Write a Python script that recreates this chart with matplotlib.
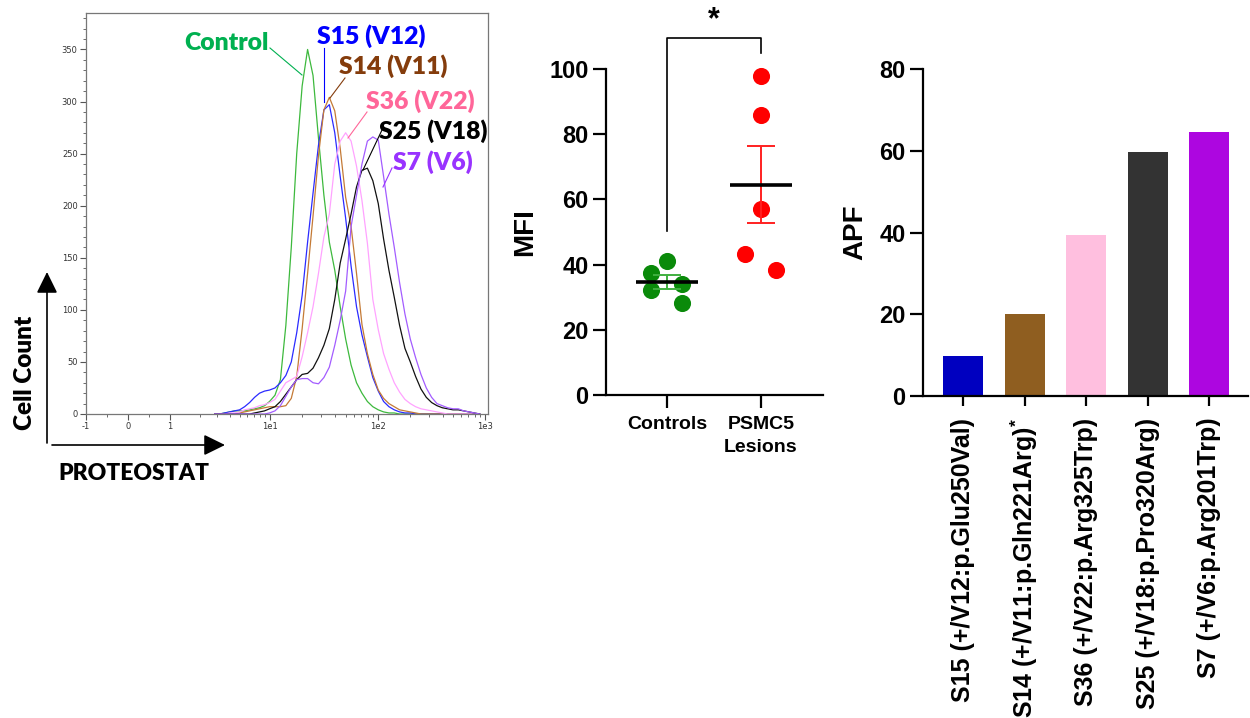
import numpy as np
import matplotlib
matplotlib.use("Agg")
import matplotlib.pyplot as plt
from matplotlib.lines import Line2D
from matplotlib.patches import FancyArrowPatch
from matplotlib.ticker import FixedLocator, NullFormatter

plt.rcParams["mathtext.fontset"] = "custom"
plt.rcParams["mathtext.rm"] = "Liberation Sans:bold"
plt.rcParams["mathtext.bf"] = "Liberation Sans:bold"
plt.rcParams["mathtext.default"] = "rm"

# ---------------- data ----------------
# Histogram: bin centres (log10 PROTEOSTAT intensity) and cell counts
LOG10_BINS = [0.45, 0.50, 0.55, 0.60, 0.65, 0.70, 0.75, 0.80, 0.85, 0.90,
              0.95, 1.00, 1.05, 1.10, 1.15, 1.20, 1.25, 1.30, 1.35, 1.40,
              1.45, 1.50, 1.55, 1.60, 1.65, 1.70, 1.75, 1.80, 1.85, 1.90,
              1.95, 2.00, 2.05, 2.10, 2.15, 2.20, 2.25, 2.30, 2.35, 2.40,
              2.45, 2.50, 2.55, 2.60, 2.65, 2.70, 2.75, 2.80, 2.85, 2.90, 2.95]
CONTROL = [0, 0, 1, 2, 3, 3, 3, 4, 5, 6, 8, 12, 18, 33, 85, 160, 250, 315, 350, 325,
           265, 210, 165, 138, 103, 72, 47, 30, 20, 12, 7, 4, 2, 1, 1, 0, 0, 0, 0, 0,
           0, 0, 0, 0, 0, 0, 0, 0, 0, 0, 0]
S15 = [0, 0, 1, 2, 3, 4, 7, 11, 16, 20, 22, 23, 25, 30, 37, 50, 78, 114, 165, 212,
       258, 292, 297, 270, 228, 188, 142, 103, 76, 55, 35, 22, 12, 7, 4, 2, 1, 1, 0, 0,
       0, 0, 0, 0, 0, 0, 0, 0, 0, 0, 0]
S14 = [0, 0, 0, 0, 0, 1, 2, 3, 4, 5, 6, 7, 7, 7, 8, 15, 36, 82, 135, 190,
       248, 292, 304, 291, 255, 208, 180, 135, 86, 58, 38, 23, 15, 10, 7, 4, 3, 2, 1, 0,
       0, 0, 0, 0, 0, 0, 0, 0, 0, 0, 0]
S36 = [0, 0, 0, 1, 1, 2, 4, 5, 6, 8, 9, 11, 14, 22, 30, 33, 36, 55, 78, 103,
       135, 170, 192, 240, 262, 270, 262, 238, 205, 164, 110, 81, 58, 43, 30, 21, 14, 10, 7, 5,
       4, 3, 2, 1, 0, 0, 0, 0, 0, 0, 0]
S25 = [0, 0, 0, 0, 0, 0, 0, 0, 1, 2, 3, 5, 7, 12, 19, 26, 33, 38, 39, 44,
       54, 66, 82, 110, 145, 168, 192, 218, 234, 236, 224, 202, 168, 138, 112, 85, 63, 50, 36, 24,
       16, 11, 8, 6, 5, 4, 4, 3, 2, 1, 0]
S7 = [0, 0, 0, 0, 0, 0, 0, 0, 0, 0, 0, 1, 3, 8, 17, 26, 33, 34, 34, 30,
      29, 35, 45, 66, 90, 118, 180, 210, 240, 262, 266, 263, 228, 192, 160, 126, 96, 72, 54, 38,
      25, 16, 10, 8, 6, 5, 5, 3, 2, 1, 0]
HIST_SERIES = [CONTROL, S15, S14, S36, S25, S7]
HIST_LABELS = ["Control", "S15 (V12)", "S14 (V11)", "S36 (V22)", "S25 (V18)", "S7 (V6)"]
HIST_TICKS = [-1, 0, 1, 10, 100, 1000]
HIST_TICKLABELS = ["-1", "0", "1", "1e1", "1e2", "1e3"]

# MFI dot plot
MFI_GROUPS = ["Controls", "PSMC5\nLesions"]
MFI_CONTROLS = [41.0, 37.3, 32.2, 34.2, 28.3]
MFI_LESIONS = [98.0, 86.0, 57.0, 43.2, 38.3]
CTRL_JITTER = [0.0, -0.167, -0.167, 0.163, 0.163]
LES_JITTER = [0.0, 0.0, 0.0, -0.167, 0.163]

# APF bar chart
APF_LABELS = ["S15 (+/V12:p.Glu250Val)", "S14 (+/V11:p.Gln221Arg)$^{*}$",
              "S36 (+/V22:p.Arg325Trp)", "S25 (+/V18:p.Pro320Arg)",
              "S7 (+/V6:p.Arg201Trp)"]
APF_VALUES = [9.8, 20.0, 39.4, 59.8, 64.5]

# ---------------- styles ----------------
CURVE_COLORS = ["#3DB93D", "#2B2BFF", "#C47A36", "#FFA3FF", "#111111", "#A35CFF"]
LABEL_COLORS = ["#00B050", "#0000FF", "#843C0C", "#FF6699", "#000000", "#9933FF"]
BAR_COLORS = ["#0000C0", "#8F5E20", "#FFBFDF", "#333333", "#AD06E0"]

W, H = 1250, 718
fig = plt.figure(figsize=(12.5, 7.18), dpi=100)


def fx(px):
    return px / W


def fy(py):
    return 1 - py / H


# ---------------- histogram ----------------
_LOGS = [0, 1, 2, 3, 4]
_PIX = [0, 100, 209, 316, 423]


def fwd(x):
    x = np.asarray(x, float)
    lg = np.log10(np.clip(x, 1, None))
    return np.where(x <= 1, 42 * x, 42 + np.interp(lg, _LOGS, _PIX))


def inv(u):
    u = np.asarray(u, float)
    return np.where(u <= 42, u / 42, 10 ** np.interp(u - 42, _PIX, _LOGS))


ax1 = fig.add_axes([fx(86), fy(414), (488 - 86) / W, (414 - 13) / H])
ax1.set_xscale("function", functions=(fwd, inv))
xs = 10 ** np.array(LOG10_BINS)
for ser, col in zip(HIST_SERIES, CURVE_COLORS):
    ax1.plot(xs, ser, color=col, lw=0.9)
ax1.set_xlim(-1, 1067)
ax1.set_ylim(0, 385)
ax1.set_xticks(HIST_TICKS)
ax1.set_xticklabels(HIST_TICKLABELS)
minor_x = [-0.5, 0.5] + [m * d for d in (1, 10, 100) for m in range(2, 10)]
ax1.xaxis.set_minor_locator(FixedLocator(minor_x))
ax1.xaxis.set_minor_formatter(NullFormatter())
ax1.set_yticks(range(0, 351, 50))
ax1.yaxis.set_minor_locator(FixedLocator(list(range(0, 381, 10))))
ax1.yaxis.set_minor_formatter(NullFormatter())
ax1.tick_params(which="major", length=4, width=0.8, color="#555555",
                labelsize=6, labelcolor="#333333", pad=2)
ax1.tick_params(which="minor", length=2.2, width=0.6, color="#555555")
for sp in ax1.spines.values():
    sp.set_color("#777777")
    sp.set_linewidth(0.9)

# annotation labels with leader lines
label_pos = [(226, 43), (371, 36), (393, 66), (420, 101), (433, 131), (433, 162)]
leaders = [((270, 48), (302, 75)), ((324, 48), (324, 102)), ((345, 78), (330, 98)),
           ((367, 112), (348, 138)), ((382, 130), (363, 170)), ((392, 168), (383, 187))]
for lab, (tx, ty), ((x0, y0), (x1, y1)), lc in zip(HIST_LABELS, label_pos, leaders, LABEL_COLORS):
    fig.text(fx(tx), fy(ty), lab, ha="center", va="center", fontsize=17.8,
             fontweight="heavy", color=lc, family="Lato")
    fig.add_artist(Line2D([fx(x0), fx(x1)], [fy(y0), fy(y1)], color=lc, lw=0.8))

fig.text(fx(25), fy(373), "Cell Count", rotation=90, ha="center", va="center",
         fontsize=17.5, fontweight="heavy", family="Lato")
fig.text(fx(134), fy(474), "PROTEOSTAT", ha="center", va="center",
         fontsize=16.5, fontweight="heavy", family="Lato")
for (a, b) in [((47, 443), (47, 272)), ((52, 445), (225, 445))]:
    fig.add_artist(FancyArrowPatch((fx(a[0]), fy(a[1])), (fx(b[0]), fy(b[1])),
                                   transform=fig.transFigure,
                                   arrowstyle="-|>,head_length=0.65,head_width=0.32",
                                   mutation_scale=20, lw=1.2, color="black",
                                   shrinkA=0, shrinkB=0))

# ---------------- MFI ----------------
AF = "Liberation Sans"
ax2 = fig.add_axes([fx(606), fy(395), (823 - 606) / W, (395 - 69) / H])
ax2.set_xlim(-0.649, 1.66)
ax2.set_ylim(0, 100)
groups = [(MFI_CONTROLS, CTRL_JITTER, "#0A8A0A", "#40B040"),
          (MFI_LESIONS, LES_JITTER, "#FF0000", "#FF2020")]
for i, (vals, jit, pc, ec) in enumerate(groups):
    v = np.array(vals)
    ax2.plot(i + np.array(jit), v, "o", ms=11.3, color=pc, mec=pc, zorder=3, clip_on=False)
    m = v.mean()
    sem = v.std(ddof=1) / np.sqrt(len(v))
    ax2.errorbar(i, m, yerr=sem, color=ec, lw=1.4, capsize=10.4, capthick=1.4, zorder=4)
    ax2.hlines(m, i - 0.33, i + 0.33, color="black", lw=2.6, zorder=5)
ax2.plot([0, 0, 1, 1], [50.3, 109.6, 109.6, 105], color="black", lw=1.2, clip_on=False)
ax2.text(0.5, 110.5, "*", ha="center", va="bottom", fontsize=22, fontweight="bold",
         family=AF, clip_on=False)
ax2.set_xticks([0, 1])
ax2.set_xticklabels(MFI_GROUPS, fontsize=14, fontweight="bold", family=AF, linespacing=1.45)
ax2.set_yticks(range(0, 101, 20))
ax2.set_yticklabels([str(t) for t in range(0, 101, 20)], fontsize=17, fontweight="bold", family=AF)
ax2.set_ylabel("MFI", fontsize=20, fontweight="bold", family=AF, labelpad=8)
ax2.spines[["top", "right"]].set_visible(False)
for sp in ("left", "bottom"):
    ax2.spines[sp].set_linewidth(1.6)
ax2.tick_params(axis="y", length=9.5, width=1.6, pad=3)
ax2.tick_params(axis="x", length=9, width=1.6, pad=6)

# ---------------- APF ----------------
ax3 = fig.add_axes([fx(923), fy(396), (1248 - 923) / W, (396 - 69) / H])
ax3.bar(range(len(APF_VALUES)), APF_VALUES, width=0.65, color=BAR_COLORS)
ax3.set_xlim(-0.65, 4.63)
ax3.set_ylim(0, 80)
ax3.set_xticks(range(len(APF_VALUES)))
ax3.set_xticklabels(APF_LABELS, rotation=90, fontsize=18, fontweight="bold", family=AF,
                    va="top", ha="center")
ax3.set_yticks(range(0, 81, 20))
ax3.set_yticklabels([str(t) for t in range(0, 81, 20)], fontsize=17, fontweight="bold", family=AF)
ax3.set_ylabel("APF", fontsize=20, fontweight="bold", family=AF, labelpad=8)
ax3.spines[["top", "right"]].set_visible(False)
for sp in ("left", "bottom"):
    ax3.spines[sp].set_linewidth(1.6)
ax3.tick_params(axis="y", length=9.5, width=1.6, pad=3)
ax3.tick_params(axis="x", length=7.5, width=1.6, pad=8)

fig.savefig("out.png", dpi=100)
